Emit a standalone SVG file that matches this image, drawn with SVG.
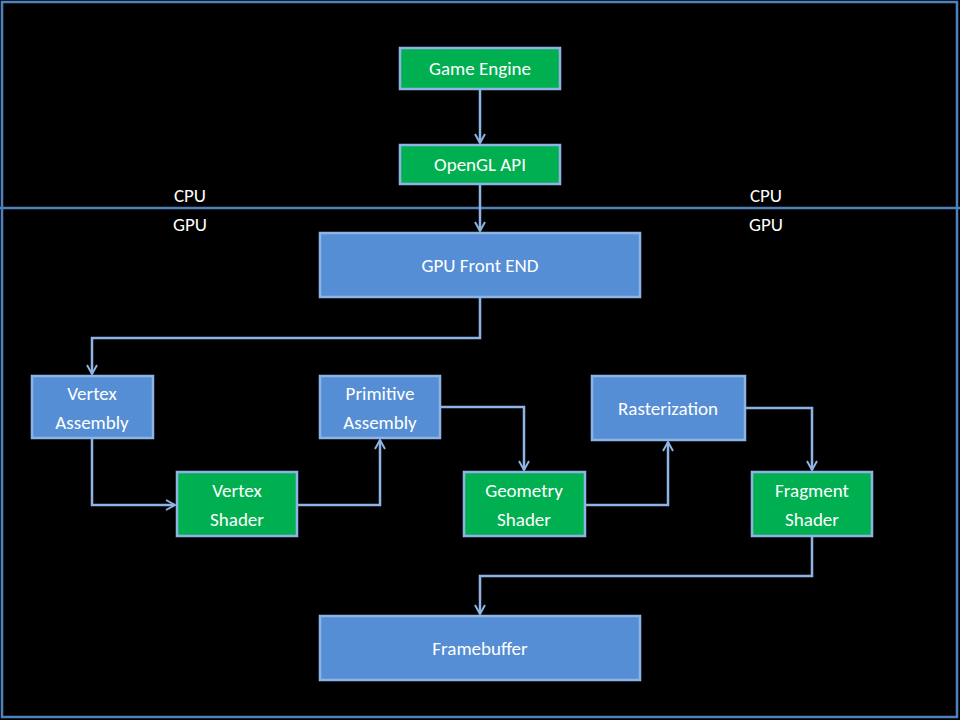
<svg xmlns="http://www.w3.org/2000/svg" width="960" height="720" viewBox="0 0 960 720">
<defs>
<marker id="ah" markerWidth="12" markerHeight="12" refX="10" refY="6" orient="auto" markerUnits="userSpaceOnUse">
<path d="M1,1 L10,6 L1,11" fill="none" stroke="#8eb4e3" stroke-width="2"/>
</marker>
<style>
.g{fill:#00b050;stroke:#8eb4e3;stroke-width:2.5}
.b{fill:#558ed5;stroke:#8eb4e3;stroke-width:2.5}
text{font-family:Calibri,"Liberation Sans",Arial,sans-serif;font-size:19px;fill:#fff;text-anchor:middle}
.c{fill:none;stroke:#8eb4e3;stroke-width:2.5;marker-end:url(#ah)}
</style>
</defs>
<rect width="960" height="720" fill="#000"/>
<rect x="2" y="2" width="955" height="715" fill="none" stroke="#4f81bd" stroke-width="2.5"/>
<line x1="0" y1="208" x2="960" y2="208" stroke="#4f81bd" stroke-width="2.5"/>
<text x="190" y="202" style="text-anchor:middle">CPU</text>
<text x="190" y="231">GPU</text>
<text x="766" y="202">CPU</text>
<text x="766" y="231">GPU</text>
<g id="connectors">
<path class="c" d="M480,89 V143"/>
<path class="c" d="M480,184 V231"/>
<path class="c" d="M480,297 V338 H92 V374"/>
<path class="c" d="M92,438 V505 H175"/>
<path class="c" d="M297,505 H380 V440"/>
<path class="c" d="M440,407 H524 V470"/>
<path class="c" d="M585,505 H668 V442"/>
<path class="c" d="M745,408 H812 V470"/>
<path class="c" d="M812,536 V576 H480 V614"/>
</g>
<g id="game-engine"><rect class="g" x="400" y="48" width="160" height="41"/><text x="480" y="75">Game Engine</text></g>
<g id="opengl-api"><rect class="g" x="400" y="145" width="160" height="39"/><text x="480" y="171">OpenGL API</text></g>
<g id="gpu-front-end"><rect class="b" x="320" y="233" width="320" height="64"/><text x="480" y="272">GPU Front END</text></g>
<g id="vertex-assembly"><rect class="b" x="32" y="376" width="121" height="62"/><text x="92" y="400">Vertex</text><text x="92" y="429">Assembly</text></g>
<g id="primitive-assembly"><rect class="b" x="320" y="376" width="120" height="62"/><text x="380" y="400">Primitive</text><text x="380" y="429">Assembly</text></g>
<g id="rasterization"><rect class="b" x="592" y="376" width="153" height="64"/><text x="668" y="415">Rasterization</text></g>
<g id="vertex-shader"><rect class="g" x="177" y="472" width="120" height="64"/><text x="237" y="497">Vertex</text><text x="237" y="526">Shader</text></g>
<g id="geometry-shader"><rect class="g" x="464" y="472" width="121" height="64"/><text x="524" y="497">Geometry</text><text x="524" y="526">Shader</text></g>
<g id="fragment-shader"><rect class="g" x="752" y="472" width="120" height="64"/><text x="812" y="497">Fragment</text><text x="812" y="526">Shader</text></g>
<g id="framebuffer"><rect class="b" x="320" y="616" width="320" height="64"/><text x="480" y="655">Framebuffer</text></g>
</svg>
